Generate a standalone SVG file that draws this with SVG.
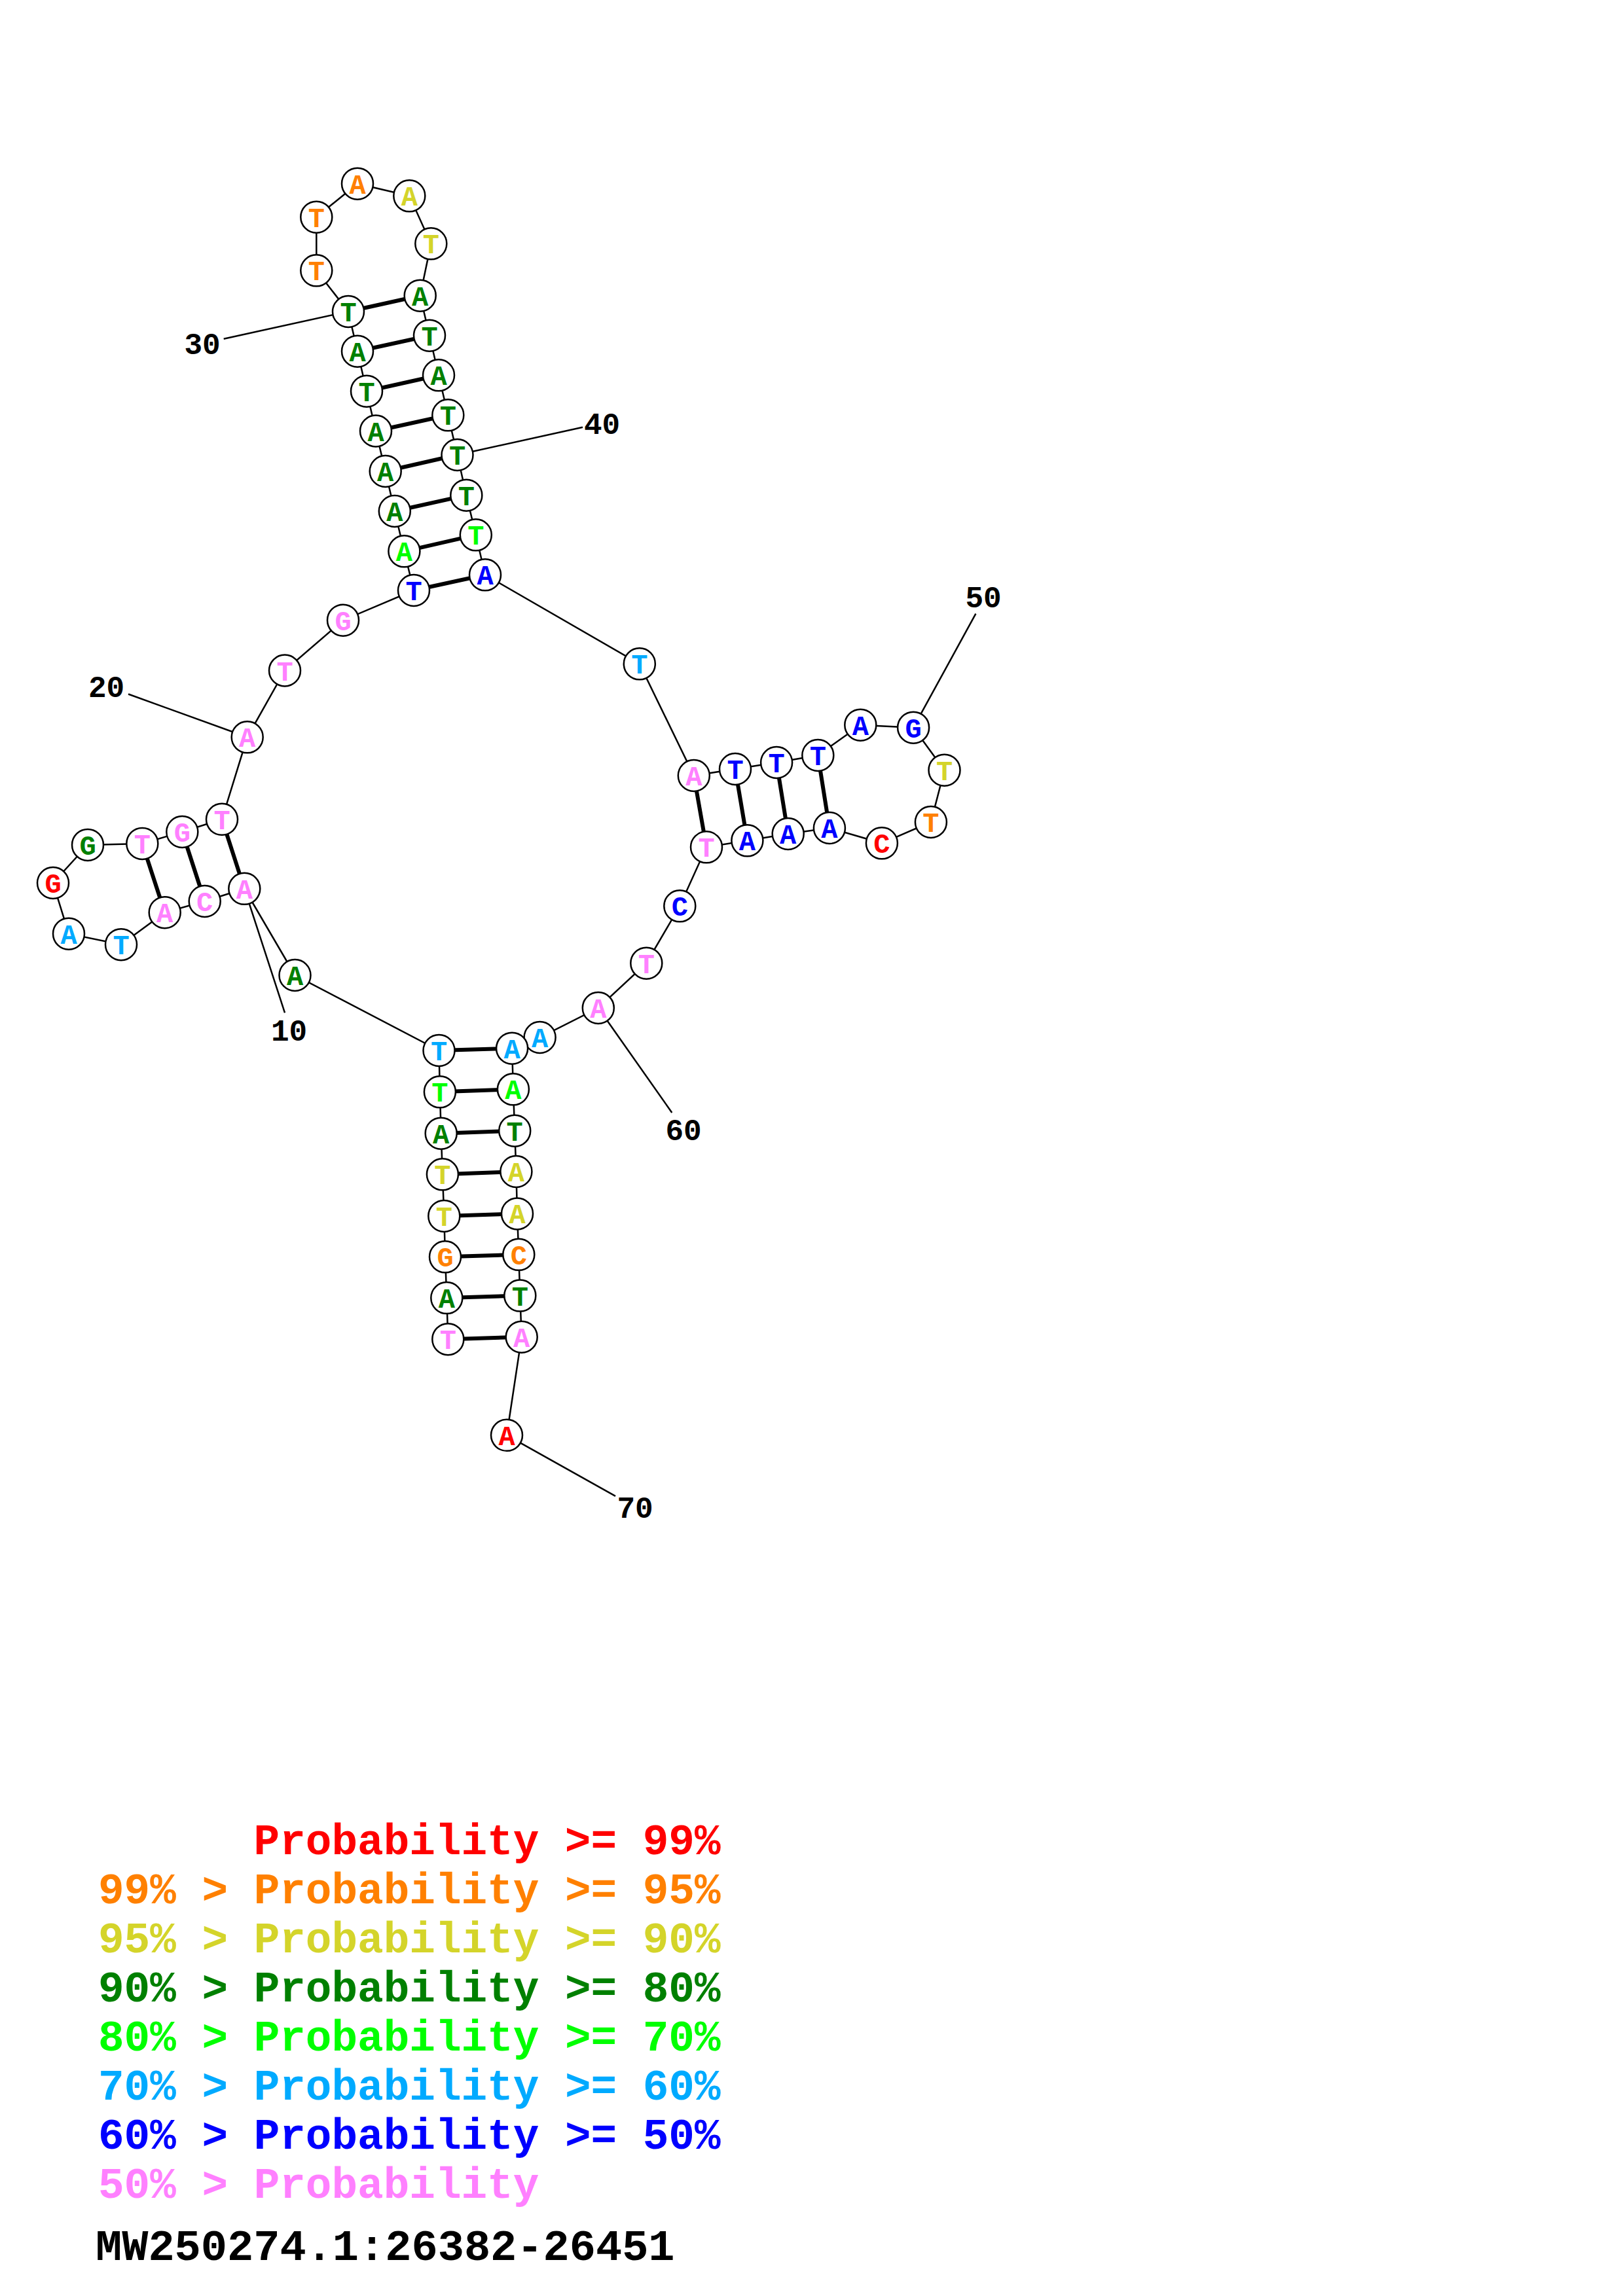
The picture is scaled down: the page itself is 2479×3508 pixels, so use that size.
<svg xmlns="http://www.w3.org/2000/svg" width="2479" height="3508" viewBox="0 0 2479 3508">
<style>
rect.bg{fill:#fff}
circle{fill:#fff;stroke:#000;stroke-width:2.5}
.n text{font-family:"Liberation Mono","DejaVu Sans Mono",monospace;font-weight:bold;font-size:42px;text-anchor:middle}
.bb{stroke:#000;stroke-width:2.5;fill:none}
.bp{stroke:#000;stroke-width:6}
.ll{stroke:#000;stroke-width:2.5}
.lab{font-family:"Liberation Mono","DejaVu Sans Mono",monospace;font-weight:bold;font-size:46px;text-anchor:middle;fill:#000}
.leg{font-family:"Liberation Mono","DejaVu Sans Mono",monospace;font-weight:bold;font-size:66px}
.ttl{font-size:67px}
.rd{fill:#FF0000}.or{fill:#FF8000}.ye{fill:#D4D42A}.dg{fill:#008000}.bg{fill:#00FF00}.lb{fill:#00AAFF}.bl{fill:#0000FF}.pk{fill:#FF80FF}.bk{fill:#000}
</style>
<rect class="bg" x="0" y="0" width="2479" height="3508"/>
<g id="connectors">
<polyline class="bb" points="684.3,2046.2 682.3,1983.1 680,1920.3 678.3,1857.9 675.9,1794.3 673.7,1731.7 671.9,1668.3 670.5,1605 450.5,1490 373.3,1357.8 312.7,1377 251.7,1394.2 185,1443.2 105,1426.7 81,1349 134,1290.9 217.3,1288.9 278.3,1271 339,1251.8 377.7,1126.3 435,1024.5 524,947.7 632,902 617.4,842.3 602.8,781 588.7,720 574,658.5 560,597.7 546,536.7 532,476 483.3,413.3 483.3,331.7 546,280.7 625.3,299.3 658.3,372.3 641.7,451.7 656,512.7 670,573.3 684.3,634.3 698.5,695 712.3,756.7 726.8,817.3 741,878.3 976.8,1014.3 1059.8,1185 1123,1175 1186.1,1165 1249.3,1154 1314.3,1107.7 1395.1,1111.7 1442.5,1176.7 1421.9,1256 1346.9,1288.3 1266.9,1265 1203.7,1274 1141.4,1284.3 1079,1294.3 1038.3,1384.3 987.3,1471.7 913.8,1540 824.6,1585 782.1,1601.7 783.9,1664.3 786.2,1727.7 788.4,1790 790,1854.4 792.3,1916.8 794.3,1979.6 796.7,2042.7 774,2192.8"/>
<line class="bp" x1="684.3" y1="2046.2" x2="796.7" y2="2042.7"/>
<line class="bp" x1="682.3" y1="1983.1" x2="794.3" y2="1979.6"/>
<line class="bp" x1="680" y1="1920.3" x2="792.3" y2="1916.8"/>
<line class="bp" x1="678.3" y1="1857.9" x2="790" y2="1854.4"/>
<line class="bp" x1="675.9" y1="1794.3" x2="788.4" y2="1790"/>
<line class="bp" x1="673.7" y1="1731.7" x2="786.2" y2="1727.7"/>
<line class="bp" x1="671.9" y1="1668.3" x2="783.9" y2="1664.3"/>
<line class="bp" x1="670.5" y1="1605" x2="782.1" y2="1601.7"/>
<line class="bp" x1="373.3" y1="1357.8" x2="339" y2="1251.8"/>
<line class="bp" x1="312.7" y1="1377" x2="278.3" y2="1271"/>
<line class="bp" x1="251.7" y1="1394.2" x2="217.3" y2="1288.9"/>
<line class="bp" x1="632" y1="902" x2="741" y2="878.3"/>
<line class="bp" x1="617.4" y1="842.3" x2="726.8" y2="817.3"/>
<line class="bp" x1="602.8" y1="781" x2="712.3" y2="756.7"/>
<line class="bp" x1="588.7" y1="720" x2="698.5" y2="695"/>
<line class="bp" x1="574" y1="658.5" x2="684.3" y2="634.3"/>
<line class="bp" x1="560" y1="597.7" x2="670" y2="573.3"/>
<line class="bp" x1="546" y1="536.7" x2="656" y2="512.7"/>
<line class="bp" x1="532" y1="476" x2="641.7" y2="451.7"/>
<line class="bp" x1="1059.8" y1="1185" x2="1079" y2="1294.3"/>
<line class="bp" x1="1123" y1="1175" x2="1141.4" y2="1284.3"/>
<line class="bp" x1="1186.1" y1="1165" x2="1203.7" y2="1274"/>
<line class="bp" x1="1249.3" y1="1154" x2="1266.9" y2="1265"/>
<line class="ll" x1="373.3" y1="1357.8" x2="435" y2="1547.3"/>
<line class="ll" x1="377.7" y1="1126.3" x2="196" y2="1060.5"/>
<line class="ll" x1="532" y1="476" x2="341.7" y2="517.7"/>
<line class="ll" x1="698.5" y1="695" x2="890" y2="652.7"/>
<line class="ll" x1="1395.1" y1="1111.7" x2="1490.4" y2="937.7"/>
<line class="ll" x1="913.8" y1="1540" x2="1026.3" y2="1700"/>
<line class="ll" x1="774" y1="2192.8" x2="940" y2="2285.8"/>
</g>
<g id="n1" class="n"><circle cx="684.3" cy="2046.2" r="24"/><text class="pk" x="684.3" y="2061.2">T</text></g>
<g id="n2" class="n"><circle cx="682.3" cy="1983.1" r="24"/><text class="dg" x="682.3" y="1998.1">A</text></g>
<g id="n3" class="n"><circle cx="680" cy="1920.3" r="24"/><text class="or" x="680" y="1935.3">G</text></g>
<g id="n4" class="n"><circle cx="678.3" cy="1857.9" r="24"/><text class="ye" x="678.3" y="1872.9">T</text></g>
<g id="n5" class="n"><circle cx="675.9" cy="1794.3" r="24"/><text class="ye" x="675.9" y="1809.3">T</text></g>
<g id="n6" class="n"><circle cx="673.7" cy="1731.7" r="24"/><text class="dg" x="673.7" y="1746.7">A</text></g>
<g id="n7" class="n"><circle cx="671.9" cy="1668.3" r="24"/><text class="bg" x="671.9" y="1683.3">T</text></g>
<g id="n8" class="n"><circle cx="670.5" cy="1605" r="24"/><text class="lb" x="670.5" y="1620">T</text></g>
<g id="n9" class="n"><circle cx="450.5" cy="1490" r="24"/><text class="dg" x="450.5" y="1505">A</text></g>
<g id="n10" class="n"><circle cx="373.3" cy="1357.8" r="24"/><text class="pk" x="373.3" y="1372.8">A</text></g>
<g id="n11" class="n"><circle cx="312.7" cy="1377" r="24"/><text class="pk" x="312.7" y="1392">C</text></g>
<g id="n12" class="n"><circle cx="251.7" cy="1394.2" r="24"/><text class="pk" x="251.7" y="1409.2">A</text></g>
<g id="n13" class="n"><circle cx="185" cy="1443.2" r="24"/><text class="lb" x="185" y="1458.2">T</text></g>
<g id="n14" class="n"><circle cx="105" cy="1426.7" r="24"/><text class="lb" x="105" y="1441.7">A</text></g>
<g id="n15" class="n"><circle cx="81" cy="1349" r="24"/><text class="rd" x="81" y="1364">G</text></g>
<g id="n16" class="n"><circle cx="134" cy="1290.9" r="24"/><text class="dg" x="134" y="1305.9">G</text></g>
<g id="n17" class="n"><circle cx="217.3" cy="1288.9" r="24"/><text class="pk" x="217.3" y="1303.9">T</text></g>
<g id="n18" class="n"><circle cx="278.3" cy="1271" r="24"/><text class="pk" x="278.3" y="1286">G</text></g>
<g id="n19" class="n"><circle cx="339" cy="1251.8" r="24"/><text class="pk" x="339" y="1266.8">T</text></g>
<g id="n20" class="n"><circle cx="377.7" cy="1126.3" r="24"/><text class="pk" x="377.7" y="1141.3">A</text></g>
<g id="n21" class="n"><circle cx="435" cy="1024.5" r="24"/><text class="pk" x="435" y="1039.5">T</text></g>
<g id="n22" class="n"><circle cx="524" cy="947.7" r="24"/><text class="pk" x="524" y="962.7">G</text></g>
<g id="n23" class="n"><circle cx="632" cy="902" r="24"/><text class="bl" x="632" y="917">T</text></g>
<g id="n24" class="n"><circle cx="617.4" cy="842.3" r="24"/><text class="bg" x="617.4" y="857.3">A</text></g>
<g id="n25" class="n"><circle cx="602.8" cy="781" r="24"/><text class="dg" x="602.8" y="796">A</text></g>
<g id="n26" class="n"><circle cx="588.7" cy="720" r="24"/><text class="dg" x="588.7" y="735">A</text></g>
<g id="n27" class="n"><circle cx="574" cy="658.5" r="24"/><text class="dg" x="574" y="673.5">A</text></g>
<g id="n28" class="n"><circle cx="560" cy="597.7" r="24"/><text class="dg" x="560" y="612.7">T</text></g>
<g id="n29" class="n"><circle cx="546" cy="536.7" r="24"/><text class="dg" x="546" y="551.7">A</text></g>
<g id="n30" class="n"><circle cx="532" cy="476" r="24"/><text class="dg" x="532" y="491">T</text></g>
<g id="n31" class="n"><circle cx="483.3" cy="413.3" r="24"/><text class="or" x="483.3" y="428.3">T</text></g>
<g id="n32" class="n"><circle cx="483.3" cy="331.7" r="24"/><text class="or" x="483.3" y="346.7">T</text></g>
<g id="n33" class="n"><circle cx="546" cy="280.7" r="24"/><text class="or" x="546" y="295.7">A</text></g>
<g id="n34" class="n"><circle cx="625.3" cy="299.3" r="24"/><text class="ye" x="625.3" y="314.3">A</text></g>
<g id="n35" class="n"><circle cx="658.3" cy="372.3" r="24"/><text class="ye" x="658.3" y="387.3">T</text></g>
<g id="n36" class="n"><circle cx="641.7" cy="451.7" r="24"/><text class="dg" x="641.7" y="466.7">A</text></g>
<g id="n37" class="n"><circle cx="656" cy="512.7" r="24"/><text class="dg" x="656" y="527.7">T</text></g>
<g id="n38" class="n"><circle cx="670" cy="573.3" r="24"/><text class="dg" x="670" y="588.3">A</text></g>
<g id="n39" class="n"><circle cx="684.3" cy="634.3" r="24"/><text class="dg" x="684.3" y="649.3">T</text></g>
<g id="n40" class="n"><circle cx="698.5" cy="695" r="24"/><text class="dg" x="698.5" y="710">T</text></g>
<g id="n41" class="n"><circle cx="712.3" cy="756.7" r="24"/><text class="dg" x="712.3" y="771.7">T</text></g>
<g id="n42" class="n"><circle cx="726.8" cy="817.3" r="24"/><text class="bg" x="726.8" y="832.3">T</text></g>
<g id="n43" class="n"><circle cx="741" cy="878.3" r="24"/><text class="bl" x="741" y="893.3">A</text></g>
<g id="n44" class="n"><circle cx="976.8" cy="1014.3" r="24"/><text class="lb" x="976.8" y="1029.3">T</text></g>
<g id="n45" class="n"><circle cx="1059.8" cy="1185" r="24"/><text class="pk" x="1059.8" y="1200">A</text></g>
<g id="n46" class="n"><circle cx="1123" cy="1175" r="24"/><text class="bl" x="1123" y="1190">T</text></g>
<g id="n47" class="n"><circle cx="1186.1" cy="1165" r="24"/><text class="bl" x="1186.1" y="1180">T</text></g>
<g id="n48" class="n"><circle cx="1249.3" cy="1154" r="24"/><text class="bl" x="1249.3" y="1169">T</text></g>
<g id="n49" class="n"><circle cx="1314.3" cy="1107.7" r="24"/><text class="bl" x="1314.3" y="1122.7">A</text></g>
<g id="n50" class="n"><circle cx="1395.1" cy="1111.7" r="24"/><text class="bl" x="1395.1" y="1126.7">G</text></g>
<g id="n51" class="n"><circle cx="1442.5" cy="1176.7" r="24"/><text class="ye" x="1442.5" y="1191.7">T</text></g>
<g id="n52" class="n"><circle cx="1421.9" cy="1256" r="24"/><text class="or" x="1421.9" y="1271">T</text></g>
<g id="n53" class="n"><circle cx="1346.9" cy="1288.3" r="24"/><text class="rd" x="1346.9" y="1303.3">C</text></g>
<g id="n54" class="n"><circle cx="1266.9" cy="1265" r="24"/><text class="bl" x="1266.9" y="1280">A</text></g>
<g id="n55" class="n"><circle cx="1203.7" cy="1274" r="24"/><text class="bl" x="1203.7" y="1289">A</text></g>
<g id="n56" class="n"><circle cx="1141.4" cy="1284.3" r="24"/><text class="bl" x="1141.4" y="1299.3">A</text></g>
<g id="n57" class="n"><circle cx="1079" cy="1294.3" r="24"/><text class="pk" x="1079" y="1309.3">T</text></g>
<g id="n58" class="n"><circle cx="1038.3" cy="1384.3" r="24"/><text class="bl" x="1038.3" y="1399.3">C</text></g>
<g id="n59" class="n"><circle cx="987.3" cy="1471.7" r="24"/><text class="pk" x="987.3" y="1486.7">T</text></g>
<g id="n60" class="n"><circle cx="913.8" cy="1540" r="24"/><text class="pk" x="913.8" y="1555">A</text></g>
<g id="n61" class="n"><circle cx="824.6" cy="1585" r="24"/><text class="lb" x="824.6" y="1600">A</text></g>
<g id="n62" class="n"><circle cx="782.1" cy="1601.7" r="24"/><text class="lb" x="782.1" y="1616.7">A</text></g>
<g id="n63" class="n"><circle cx="783.9" cy="1664.3" r="24"/><text class="bg" x="783.9" y="1679.3">A</text></g>
<g id="n64" class="n"><circle cx="786.2" cy="1727.7" r="24"/><text class="dg" x="786.2" y="1742.7">T</text></g>
<g id="n65" class="n"><circle cx="788.4" cy="1790" r="24"/><text class="ye" x="788.4" y="1805">A</text></g>
<g id="n66" class="n"><circle cx="790" cy="1854.4" r="24"/><text class="ye" x="790" y="1869.4">A</text></g>
<g id="n67" class="n"><circle cx="792.3" cy="1916.8" r="24"/><text class="or" x="792.3" y="1931.8">C</text></g>
<g id="n68" class="n"><circle cx="794.3" cy="1979.6" r="24"/><text class="dg" x="794.3" y="1994.6">T</text></g>
<g id="n69" class="n"><circle cx="796.7" cy="2042.7" r="24"/><text class="pk" x="796.7" y="2057.7">A</text></g>
<g id="n70" class="n"><circle cx="774" cy="2192.8" r="24"/><text class="rd" x="774" y="2207.8">A</text></g>
<g id="labels">
<text class="lab" x="441.5" y="1590">10</text>
<text class="lab" x="162.5" y="1065">20</text>
<text class="lab" x="309" y="541">30</text>
<text class="lab" x="919.5" y="663">40</text>
<text class="lab" x="1502" y="928">50</text>
<text class="lab" x="1044" y="1742">60</text>
<text class="lab" x="970" y="2319">70</text>
</g>
<g id="legend" class="leg">
<text class="rd" x="387.6" y="2832.7">Probability &gt;= 99%</text>
<text class="or" x="150" y="2907.7">99% &gt; Probability &gt;= 95%</text>
<text class="ye" x="150" y="2982.7">95% &gt; Probability &gt;= 90%</text>
<text class="dg" x="150" y="3057.7">90% &gt; Probability &gt;= 80%</text>
<text class="bg" x="150" y="3132.7">80% &gt; Probability &gt;= 70%</text>
<text class="lb" x="150" y="3207.7">70% &gt; Probability &gt;= 60%</text>
<text class="bl" x="150" y="3282.7">60% &gt; Probability &gt;= 50%</text>
<text class="pk" x="150" y="3357.7">50% &gt; Probability</text>
<text class="bk ttl" x="146" y="3453">MW250274.1:26382-26451</text>
</g>
</svg>
